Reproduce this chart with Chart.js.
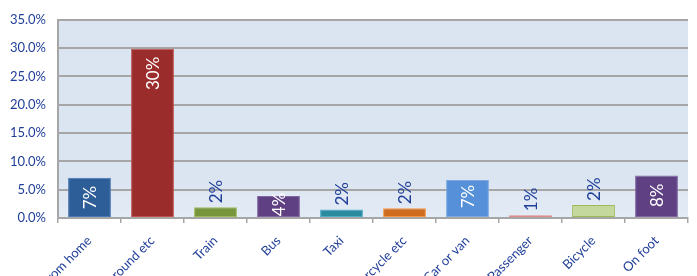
<!DOCTYPE html>
<html>
<head>
<meta charset="utf-8">
<script src="https://cdn.jsdelivr.net/npm/chart.js@4/dist/chart.umd.min.js"></script>
<style>
  html, body { margin: 0; padding: 0; background: #fff; }
  #wrap { width: 697px; height: 276px; }
</style>
</head>
<body>
<div id="wrap"><canvas id="myChart"></canvas></div>
<script>
// Share of people by travel mode (percent)
var modes = ["Work from home", "Underground etc", "Train", "Bus", "Taxi", "Motorcycle etc", "Car or van", "Passenger", "Bicycle", "On foot"];
var shares = [7.1, 29.9, 1.9, 3.9, 1.5, 1.7, 6.7, 0.5, 2.3, 7.5];
var yTicks = [0, 5, 10, 15, 20, 25, 30, 35];

var fills = ['#2E5E98', '#9A2C2B', '#77953A', '#5F4183', '#2A8BA0', '#D06C1E', '#5590D8', '#D86A6A', '#C4D79C', '#5F4183'];
var edges = ['#4A7AB5', '#C0504D', '#9BBB59', '#8064A2', '#4BACC6', '#F79646', '#7EA8E0', '#E08A8A', '#9BBB59', '#8064A2'];
var navy = '#203F9A';

// light blue plot area behind the bars
var plotBg = {
  id: 'plotBg',
  beforeDraw: function(chart) {
    var a = chart.chartArea, c = chart.ctx;
    var g = c.createLinearGradient(0, a.top, 0, a.bottom);
    g.addColorStop(0, '#DBE5F1');
    g.addColorStop(0.8, '#DBE5F1');
    g.addColorStop(1, '#E3EBF5');
    c.save();
    c.fillStyle = g;
    c.fillRect(a.left, a.top, a.right - a.left, a.bottom - a.top);
    c.restore();
  }
};

// rotated value labels on the bars
var barLabels = {
  id: 'barLabels',
  afterDatasetsDraw: function(chart) {
    var c = chart.ctx;
    var meta = chart.getDatasetMeta(0);
    c.save();
    c.font = '17px Lato';
    c.textBaseline = 'middle';
    meta.data.forEach(function(bar, i) {
      var txt = Math.round(shares[i]) + '%';
      var w = c.measureText(txt).width;
      var h = bar.base - bar.y;
      var y, align, col;
      if (h >= w + 14) { y = bar.y + 8; align = 'right'; col = '#fff'; }
      else if (h >= w - 3) { y = (bar.y + bar.base) / 2 - 2; align = 'center'; col = '#fff'; }
      else { y = bar.y - 4; align = 'left'; col = navy; }
      c.save();
      c.translate(bar.x, y);
      c.rotate(-Math.PI / 2);
      c.textAlign = align;
      c.fillStyle = col;
      c.fillText(txt, 0, 1);
      c.restore();
    });
    c.restore();
  }
};

var ctx = document.getElementById('myChart').getContext('2d');
var myChart = new Chart(ctx, {
  type: 'bar',
  data: {
    labels: modes,
    datasets: [{
      data: shares,
      backgroundColor: fills,
      borderColor: edges,
      borderWidth: 1,
      borderSkipped: false,
      categoryPercentage: 0.68,
      barPercentage: 1
    }]
  },
  options: {
    responsive: true,
    maintainAspectRatio: false,
    animation: false,
    layout: { padding: { top: 19, right: 9, left: 0, bottom: 0 } },
    plugins: { legend: { display: false }, tooltip: { enabled: false } },
    scales: {
      x: {
        offset: true,
        afterFit: function(s) { s.height = 58; },
        grid: { display: true, offset: true, drawOnChartArea: false, tickLength: 5, color: '#A6A6A6', lineWidth: 1.5 },
        border: { color: '#A6A6A6', width: 2 },
        ticks: { minRotation: 45, maxRotation: 45, autoSkip: false, color: navy, font: { family: 'Lato', size: 13 }, padding: 10 }
      },
      y: {
        min: 0,
        max: 35,
        afterFit: function(s) { s.width = 58; },
        afterBuildTicks: function(s) { s.ticks = yTicks.map(function(v) { return { value: v }; }); },
        grid: { color: '#A6A6A6', lineWidth: 2, drawTicks: false },
        border: { color: '#A6A6A6', width: 2 },
        ticks: {
          color: navy,
          padding: 12,
          font: { family: 'Lato', size: 13 },
          callback: function(v) { return v.toFixed(1) + '%'; }
        }
      }
    }
  },
  plugins: [plotBg, barLabels]
});
</script>
</body>
</html>
